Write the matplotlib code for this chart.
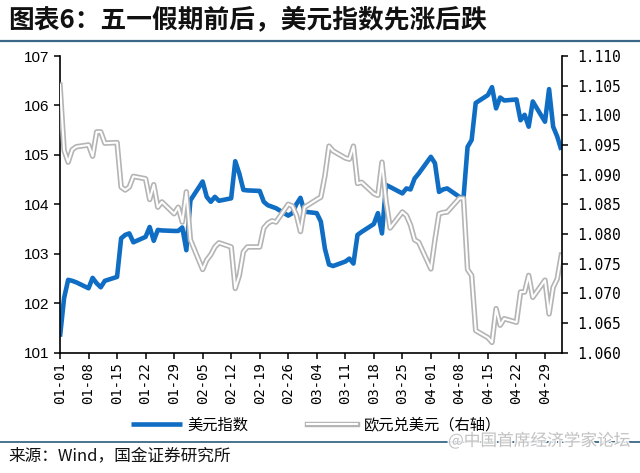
import matplotlib
matplotlib.use("Agg")
import matplotlib.pyplot as plt
from matplotlib.lines import Line2D
import pandas as pd
import matplotlib.patheffects as pe

plt.rcParams['font.family'] = ['Noto Sans CJK SC', 'DejaVu Sans']

# ---------------- data ----------------
dates = ["01-01","01-02","01-03","01-04","01-05","01-08","01-09","01-10","01-11","01-12",
         "01-15","01-16","01-17","01-18","01-19","01-22","01-23","01-24","01-25","01-26",
         "01-29","01-30","01-31",
         "02-01","02-02","02-05","02-06","02-07","02-08","02-09","02-12","02-13","02-14",
         "02-15","02-16","02-19","02-20","02-21","02-22","02-23","02-26","02-27","02-28","02-29",
         "03-01","03-04","03-05","03-06","03-07","03-08","03-11","03-12","03-13","03-14",
         "03-15","03-18","03-19","03-20","03-21","03-22","03-25","03-26","03-27","03-28","03-29",
         "04-01","04-02","04-03","04-04","04-05","04-08","04-09","04-10","04-11","04-12",
         "04-15","04-16","04-17","04-18","04-19","04-22","04-23","04-24","04-25","04-26",
         "04-29","04-30",
         "05-01","05-02","05-03"]

dxy = [101.32, 102.10, 102.47, 102.45, 102.42, 102.30, 102.51, 102.40, 102.32, 102.45,
       102.53, 103.31, 103.38, 103.41, 103.23, 103.34, 103.54, 103.26, 103.48, 103.47,
       103.46, 103.46, 103.53,
       103.07, 104.08, 104.46, 104.15, 104.05, 104.15, 104.07, 104.12, 104.87, 104.62,
       104.29, 104.28, 104.27, 104.05, 103.98, 103.95, 103.92, 103.77, 103.82, 104.00, 104.13,
       103.85, 103.82, 103.65, 103.10, 102.78, 102.75, 102.84, 102.90, 102.80, 103.38,
       103.44, 103.60, 103.82, 103.41, 104.39, 104.35, 104.22, 104.32, 104.30, 104.52, 104.62,
       104.96, 104.83, 104.25, 104.30, 104.32, 104.15, 104.12, 105.16, 105.30, 106.05,
       106.21, 106.37, 105.94, 106.16, 106.10, 106.12, 105.70, 105.81, 105.57, 106.08,
       105.67, 106.33,
       105.57, 105.37, 105.10]

eurusd = [1.1051, 1.0941, 1.0921, 1.0942, 1.0947, 1.0950, 1.0931, 1.0972, 1.0972, 1.0953,
          1.0954, 1.0879, 1.0874, 1.0879, 1.0897, 1.0893, 1.0858, 1.0883, 1.0845, 1.0854,
          1.0834, 1.0845, 1.0820,
          1.0871, 1.0790, 1.0740, 1.0756, 1.0765, 1.0778, 1.0785, 1.0778, 1.0708, 1.0730,
          1.0770, 1.0778, 1.0778, 1.0810, 1.0818, 1.0822, 1.0820, 1.0850, 1.0847, 1.0832, 1.0804,
          1.0845, 1.0858, 1.0862, 1.0898, 1.0948, 1.0940, 1.0928, 1.0926, 1.0948, 1.0885,
          1.0887, 1.0868, 1.0865, 1.0921, 1.0855, 1.0810, 1.0837, 1.0831, 1.0815, 1.0790, 1.0786,
          1.0741, 1.0790, 1.0834, 1.0836, 1.0837, 1.0860, 1.0860, 1.0740, 1.0730, 1.0637,
          1.0625, 1.0617, 1.0674, 1.0646, 1.0657, 1.0651, 1.0702, 1.0702, 1.0730, 1.0693,
          1.0722, 1.0665,
          1.0710, 1.0724, 1.0764]

tick_labels = ["01-01","01-08","01-15","01-22","01-29","02-05","02-12","02-19","02-26",
               "03-04","03-11","03-18","03-25","04-01","04-08","04-15","04-22","04-29"]

left_ticks = [101, 102, 103, 104, 105, 106, 107]
right_ticks = [1.060, 1.065, 1.070, 1.075, 1.080, 1.085, 1.090, 1.095, 1.100, 1.105, 1.110]

series_names = ["美元指数", "欧元兑美元（右轴）"]
title = "图表6：五一假期前后，美元指数先涨后跌"
source = "来源：Wind，国金证券研究所"
watermark = "@中国首席经济学家论坛"

YEAR = "2024-"
x = pd.to_datetime([YEAR + d for d in dates])
xt = pd.to_datetime([YEAR + d for d in tick_labels])

# ---------------- figure ----------------
W, H = 640, 473
fig = plt.figure(figsize=(W / 100, H / 100), dpi=100)
fig.patch.set_facecolor("white")

left_px, right_px, top_px, bot_px = 60, 561.7, 56, 352.5
ax = fig.add_axes([left_px / W, 1 - bot_px / H, (right_px - left_px) / W, (bot_px - top_px) / H])
ax2 = ax.twinx()

blue = "#0F6EC4"
gray = "#B4B4B4"

l1, = ax.plot(x, dxy, color=blue, lw=3.3, solid_joinstyle="round", solid_capstyle="butt")
g1, = ax2.plot(x, eurusd, color="white", lw=1.5, solid_joinstyle="round",
               path_effects=[pe.Stroke(linewidth=3.9, foreground=gray), pe.Normal()])

x0 = pd.Timestamp(YEAR + "01-01")
ax.set_xlim(x0, x0 + pd.Timedelta(days=123.1))
ax.set_ylim(101, 107)
ax2.set_ylim(1.060, 1.110)

ax.set_xticks(xt)
ax.set_xticklabels(tick_labels, rotation=90, family="DejaVu Sans Mono", fontsize=10)
ax.set_yticks(left_ticks)
ax.set_yticklabels([str(v) for v in left_ticks], family="Liberation Sans", fontsize=11)
ax2.set_yticks(right_ticks)
ax2.set_yticklabels([f"{v:.3f}" for v in right_ticks], family="DejaVu Sans Mono", fontsize=10.5)

for a in (ax, ax2):
    a.spines["top"].set_visible(False)
    a.set_facecolor("none")
ax.spines["right"].set_visible(False)
ax2.spines["left"].set_visible(False)
ax2.spines["bottom"].set_visible(False)
for s in ("left", "bottom"):
    ax.spines[s].set_linewidth(1.2)
ax2.spines["right"].set_linewidth(1.2)

ax.tick_params(axis="x", direction="out", length=4, width=1.1, pad=3, colors="black")
ax.tick_params(axis="y", direction="out", length=4, width=1.1, pad=4, colors="black")
ax2.tick_params(axis="y", direction="out", length=4, width=1.1, pad=7, colors="black")

# legend
leg = fig.legend([l1, g1], series_names,
                 loc="center", bbox_to_anchor=(316 / W, 1 - 425 / H), ncol=2,
                 frameon=False, handlelength=3.3, handletextpad=0.4, columnspacing=3.8,
                 prop={"family": ["Noto Sans CJK SC", "DejaVu Sans"], "size": 11})

# title and separators
fig.text(8 / W, 1 - 20 / H, title, fontsize=18.5, fontweight="bold", va="center", ha="left",
         color="#111111")
sep = "#3B6886"
fig.add_artist(Line2D([0, 1], [1 - 41 / H] * 2, color=sep, lw=1.6, transform=fig.transFigure))
fig.add_artist(Line2D([0, 1], [1 - 442 / H] * 2, color=sep, lw=1.3, transform=fig.transFigure))
fig.text(8 / W, 1 - 456 / H, source, fontsize=12, va="center", ha="left", color="#111111")

# watermark
fig.text(630 / W, 1 - 441 / H, watermark, fontsize=12, va="center", ha="right",
         color="#BDBDBD", alpha=0.9,
         path_effects=[pe.withStroke(linewidth=2, foreground="white")])

fig.savefig("out.png", dpi=100, facecolor="white")
